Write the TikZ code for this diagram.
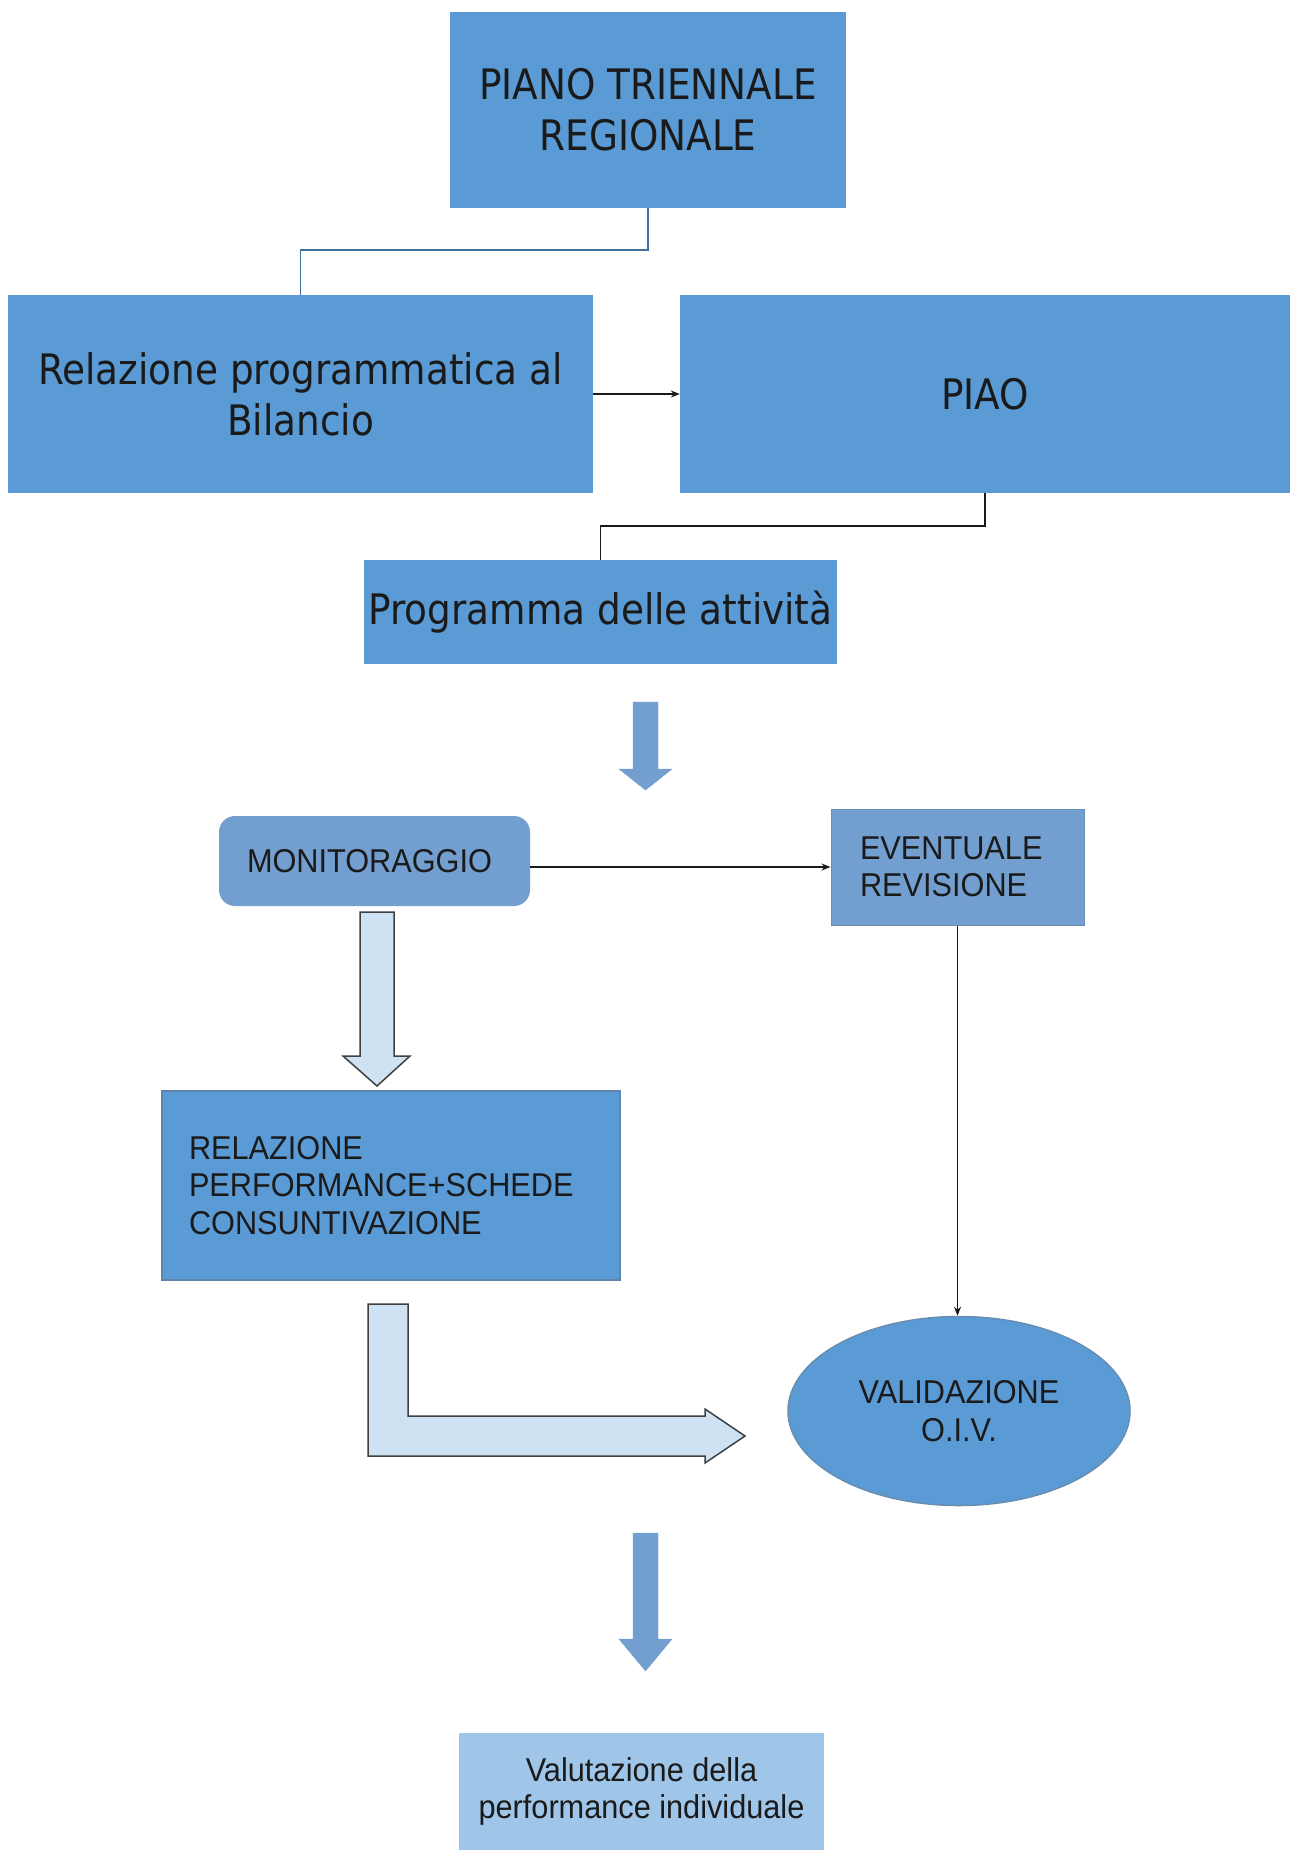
\documentclass[tikz,border=0pt]{standalone}
\usepackage{fontspec}
\newfontfamily\tahomafont[FakeStretch=0.89]{DejaVu Sans}
\newfontfamily\arialfont[FakeStretch=0.93]{Liberation Sans}
\usetikzlibrary{arrows.meta, shapes.geometric}
\definecolor{boxblue}{HTML}{5B9BD5}
\definecolor{softblue}{HTML}{729FCF}
\definecolor{paleblue}{HTML}{CFE2F3}
\definecolor{lightblue}{HTML}{9FC5E8}
\definecolor{edgeblue}{HTML}{41719C}
\definecolor{inkgray}{HTML}{1A1A1A}
\tikzset{
	bigbox/.style={fill=boxblue, align=center, inner sep=0pt, text=inkgray,
		font=\tahomafont\fontsize{42}{51}\selectfont},
	smallbox/.style={fill=softblue, inner sep=0pt, text=inkgray,
		font=\arialfont\fontsize{33}{37.5}\selectfont},
	conn/.style={-{Stealth[length=9pt, width=7pt]}, line width=1.4pt, draw=inkgray},
	plainlink/.style={line width=1.6pt, draw=inkgray},
	bluelink/.style={line width=1.6pt, draw=edgeblue},
	fatarrow/.style={fill=softblue, draw=softblue},
	hollowarrow/.style={fill=paleblue, draw=black!75, line width=1.5pt, line join=miter}
}

\begin{document}
\begin{tikzpicture}[x=1pt, y=-1pt]
	\useasboundingbox (0,0) rectangle (1295,1850);
	% top part
	\node[bigbox, minimum width=396, minimum height=196] (piano) at (648,110) {PIANO TRIENNALE\\REGIONALE};
	\node[bigbox, minimum width=585, minimum height=198] (rel) at (300.5,394) {Relazione programmatica al\\Bilancio};
	\node[bigbox, minimum width=610, minimum height=198] (piao) at (985,394) {PIAO};
	\node[bigbox, minimum width=473, minimum height=104] (prog) at (600.5,612) {Programma delle attività};
	\draw[bluelink] (piano.south) -- ++(0,42) -| (rel.north);
	\draw[conn] (rel.east) -- (piao.west);
	\draw[plainlink] (piao.south) -- ++(0,33) -| (prog.north);
	\draw[fatarrow] (633,702) -- (658,702) -- (658,769) -- (672,769) -- (645.5,790) -- (619,769) -- (633,769) -- cycle;
	% monitoring
	\node[smallbox, rounded corners=16pt, minimum width=311, minimum height=90] (mon) at (374.5,861) {MONITORAGGIO\hspace*{10pt}};
	\node[smallbox, draw=edgeblue!80, line width=1pt, inner xsep=29pt, text width=195pt, align=left, minimum height=116] (rev) at (957.5,867) {EVENTUALE\\REVISIONE};
	\node[smallbox, fill=boxblue, draw=edgeblue!85, line width=2pt, inner xsep=27pt, text width=404pt, align=left, minimum height=189] (perf) at (391,1185.5) {RELAZIONE\\PERFORMANCE+SCHEDE\\CONSUNTIVAZIONE};
	\node[smallbox, ellipse, fill=boxblue, draw=edgeblue!80, line width=1.5pt, align=center, minimum width=342, minimum height=189] (val) at (959,1411) {VALIDAZIONE\\O.I.V.};
	\draw[conn] (mon.east |- rev) -- (rev.west);
	\draw[conn] (rev.south) -- (rev.south |- val.north);
	\draw[hollowarrow] (360,912) -- (394,912) -- (394,1056) -- (410,1056) -- (377,1086) -- (343,1056) -- (360,1056) -- cycle;
	\draw[hollowarrow] (368,1304) -- (408,1304) -- (408,1416) -- (705,1416) -- (705,1409) -- (745,1436) -- (705,1463) -- (705,1456) -- (368,1456) -- cycle;
	% final step
	\draw[fatarrow] (633,1533) -- (658,1533) -- (658,1639) -- (672,1639) -- (645.5,1671) -- (619,1639) -- (633,1639) -- cycle;
	\node[smallbox, fill=lightblue, align=center, minimum width=365, minimum height=117] (valut) at (641.5,1791.5) {Valutazione della\\performance individuale};
\end{tikzpicture}
\end{document}
